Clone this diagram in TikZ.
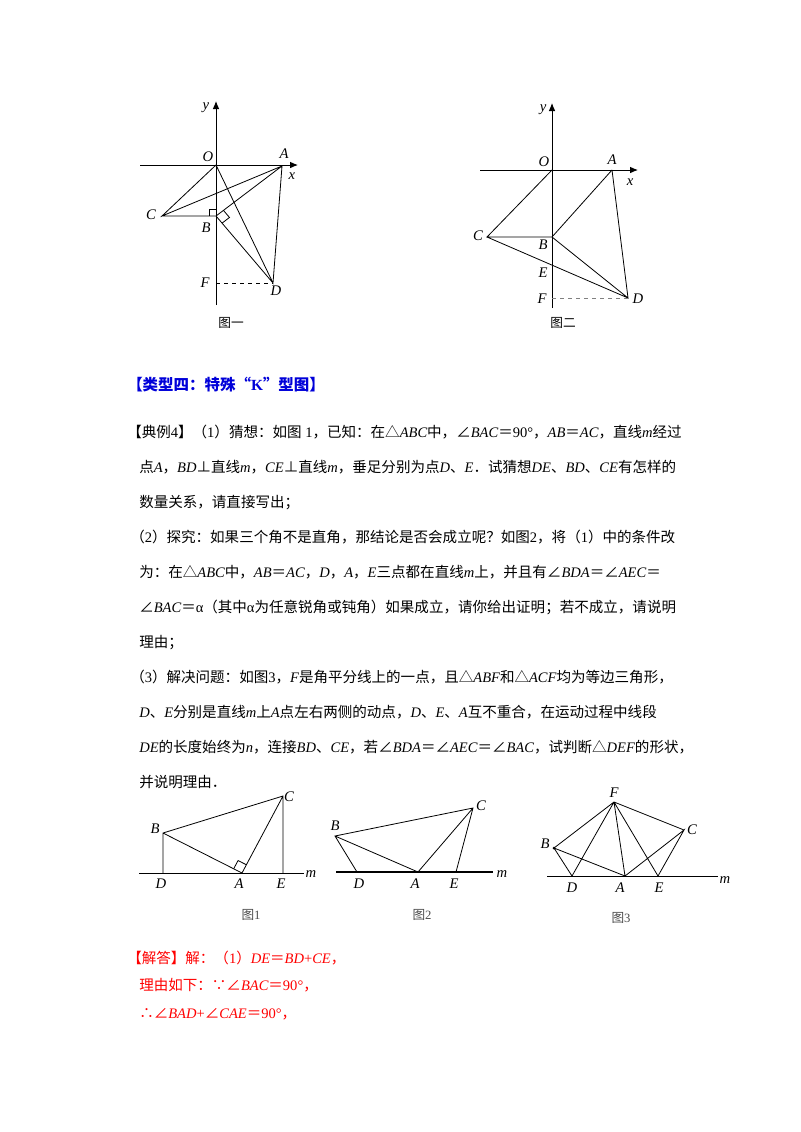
\documentclass[tikz,border=0pt]{standalone}
\usepackage{fontspec}
\usetikzlibrary{arrows.meta,calc}
\setmainfont{Noto Sans CJK SC}
\newfontfamily\lat{Liberation Serif}
\newcommand{\mi}[1]{{\lat\itshape #1}}
\newcommand{\mr}[1]{{\lat #1}}
\begin{document}
\begin{tikzpicture}[x=0.75pt,y=-0.75pt,
  ln/.style={line width=0.6pt},
  lb/.style={font=\lat\itshape\fontsize{11}{13}\selectfont,inner sep=1pt},
  figcap/.style={font=\fontsize{9.5}{11}\selectfont},
  tx/.style={anchor=base west,inner sep=0pt,font=\fontsize{10.9}{13}\selectfont},
  ax/.style={line width=0.7pt,-{Latex[length=6pt,width=5pt]}}]
\useasboundingbox (0,0) rectangle (800,1132);
% ===== Figure one =====
\coordinate (O1) at (216,165); \coordinate (A1) at (282,166);
\coordinate (C1) at (162,216); \coordinate (B1) at (216,216);
\coordinate (F1) at (216,283); \coordinate (D1) at (273,283);
\coordinate (ya1) at (216,305); \coordinate (yb1) at (216,101);
\coordinate (xa1) at (140,165); \coordinate (xb1) at (298,165);
\draw[ax] (ya1)--(yb1); \draw[ax] (xa1)--(xb1);
\draw[ln] (O1)--(C1)--(A1) (C1)--(B1) (O1)--(D1)--(A1)--(B1)--(D1);
\draw[ln,dashed] (F1)--(D1);
\draw[ln] ($(B1)+(-7,0)$) |- ($(B1)+(0,-7)$);
\draw[ln] ($(B1)!7pt!(A1)$) -- ($(B1)!7pt!(A1)+(B1)!7pt!(D1)-(B1)$) -- ($(B1)!7pt!(D1)$);
\node[lb] (ly1) at (206,108) {y}; \node[lb] (lx1) at (292,176) {x};
\node[lb] at (208,157) {O}; \node[lb] at (284,154) {A};
\node[lb] at (151,215) {C}; \node[lb] at (206,228) {B};
\node[lb] at (205,283) {F}; \node[lb] at (276,291) {D};
\node[figcap] at (231,323) {图一};
% ===== Figure two =====
\coordinate (O2) at (552,170); \coordinate (A2) at (612,170);
\coordinate (C2) at (487,237); \coordinate (B2) at (552,237);
\coordinate (E2) at (552,266); \coordinate (D2) at (628,298);
\coordinate (F2) at (552,298);
\coordinate (ya2) at (552,308); \coordinate (yb2) at (552,103);
\coordinate (xa2) at (480,170); \coordinate (xb2) at (638,170);
\draw[ax] (ya2)--(yb2); \draw[ax] (xa2)--(xb2);
\draw[ln] (O2)--(C2)--(B2) (C2)--(D2) (A2)--(B2)--(D2)--(A2);
\draw[ln,dashed,gray] (F2)--(D2);
\node[lb] at (543,110) {y}; \node[lb] at (630,182) {x};
\node[lb] at (544,162) {O}; \node[lb] at (612,160) {A};
\node[lb] at (478,236) {C}; \node[lb] at (543,245) {B};
\node[lb] at (543,273) {E}; \node[lb] at (542,299) {F};
\node[lb] at (638,299) {D};
\node[figcap] at (563,323) {图二};
% ===== Text =====
\node[tx,font=\bfseries\fontsize{11.6}{13}\selectfont,text=blue!85!black] at (127,390) {【类型四：特殊“\mr{\bfseries K}”型图】};
\node[tx] at (127,437) {【典例\mr{4}】（\mr1）猜想：如图\mr{ 1}，已知：在△\mi{ABC}中，∠\mi{BAC}＝\mr{90°}，\mi{AB}＝\mi{AC}，直线\mi{m}经过};
\node[tx] at (139,472) {点\mi{A}，\mi{BD}⊥直线\mi{m}，\mi{CE}⊥直线\mi{m}，垂足分别为点\mi{D}、\mi{E}．试猜想\mi{DE}、\mi{BD}、\mi{CE}有怎样的};
\node[tx] at (139,507) {数量关系，请直接写出；};
\node[tx] at (130,542) {（\mr2）探究：如果三个角不是直角，那结论是否会成立呢？如图\mr{2}，将（\mr1）中的条件改};
\node[tx] at (139,577) {为：在△\mi{ABC}中，\mi{AB}＝\mi{AC}，\mi{D}，\mi{A}，\mi{E}三点都在直线\mi{m}上，并且有∠\mi{BDA}＝∠\mi{AEC}＝};
\node[tx] at (139,612) {∠\mi{BAC}＝\mr{α}（其中\mr{α}为任意锐角或钝角）如果成立，请你给出证明；若不成立，请说明};
\node[tx] at (139,647) {理由；};
\node[tx] at (130,682) {（\mr3）解决问题：如图\mr{3}，\mi{F}是角平分线上的一点，且△\mi{ABF}和△\mi{ACF}均为等边三角形，};
\node[tx] at (139,717) {\mi{D}、\mi{E}分别是直线\mi{m}上\mi{A}点左右两侧的动点，\mi{D}、\mi{E}、\mi{A}互不重合，在运动过程中线段};
\node[tx] at (139,752) {\mi{DE}的长度始终为\mi{n}，连接\mi{BD}、\mi{CE}，若∠\mi{BDA}＝∠\mi{AEC}＝∠\mi{BAC}，试判断△\mi{DEF}的形状，};
\node[tx] at (139,787) {并说明理由．};
% ===== Figure 1 =====
\coordinate (m1a) at (139,873); \coordinate (m1b) at (304,873);
\coordinate (D3) at (163,873); \coordinate (B3) at (163,833);
\coordinate (A3) at (242,873); \coordinate (C3) at (283,796);
\coordinate (E3) at (283,873);
\draw[ln] (m1a)--(m1b);
\draw[ln] (D3)--(B3)--(C3)--(E3) (B3)--(A3)--(C3);
\draw[ln] ($(A3)!7pt!(B3)$) -- ($(A3)!7pt!(B3)+(A3)!7pt!(C3)-(A3)$) -- ($(A3)!7pt!(C3)$);
\node[lb] at (155,829) {B}; \node[lb] at (289,797) {C};
\node[lb] at (161,884) {D}; \node[lb] at (239,884) {A}; \node[lb] at (281,884) {E};
\node[lb] at (311,874) {m};
\node[figcap,text=gray!60!black] at (251,915) {图\mr1};
% ===== Figure 2 =====
\coordinate (m2a) at (336,872); \coordinate (m2b) at (493,872);
\coordinate (B4) at (335,836); \coordinate (D4) at (357,872);
\coordinate (A4) at (418,872); \coordinate (E4) at (456,872);
\coordinate (C4) at (473,808);
\draw[line width=0.9pt] (m2a)--(m2b);
\draw[ln] (D4)--(B4)--(C4)--(E4) (B4)--(A4)--(C4);
\node[lb] at (335,826) {B}; \node[lb] at (481,806) {C};
\node[lb] at (359,884) {D}; \node[lb] at (415,884) {A}; \node[lb] at (454,884) {E};
\node[lb] at (502,874) {m};
\node[figcap,text=gray!60!black] at (422,915) {图\mr2};
% ===== Figure 3 =====
\coordinate (m3a) at (547,876); \coordinate (m3b) at (718,876);
\coordinate (F5) at (614,802); \coordinate (B5) at (554,848);
\coordinate (D5) at (572,876); \coordinate (A5) at (625,876);
\coordinate (E5) at (658,876); \coordinate (C5) at (684,830);
\draw[ln] (m3a)--(m3b);
\draw[ln] (F5)--(B5) (F5)--(D5) (F5)--(A5) (F5)--(E5) (F5)--(C5)
  (B5)--(D5) (B5)--(A5)--(C5)--(E5);
\fill (B5) circle (1.5);
\node[lb] at (614,793) {F}; \node[lb] at (545,844) {B}; \node[lb] at (692,830) {C};
\node[lb] at (572,888) {D}; \node[lb] at (620,888) {A}; \node[lb] at (659,888) {E};
\node[lb] at (725,880) {m};
\node[figcap,text=gray!60!black] at (621,918) {图\mr3};
% ===== Answer =====
\node[tx,text=red] at (127,963) {【解答】解：（\mr1）\mi{DE}＝\mi{BD}\mr{+}\mi{CE}，};
\node[tx,text=red] at (139,990) {理由如下：∵∠\mi{BAC}＝\mr{90°}，};
\node[tx,text=red] at (139,1018) {∴∠\mi{BAD}\mr{+}∠\mi{CAE}＝\mr{90°}，};
\end{tikzpicture}
\end{document}
